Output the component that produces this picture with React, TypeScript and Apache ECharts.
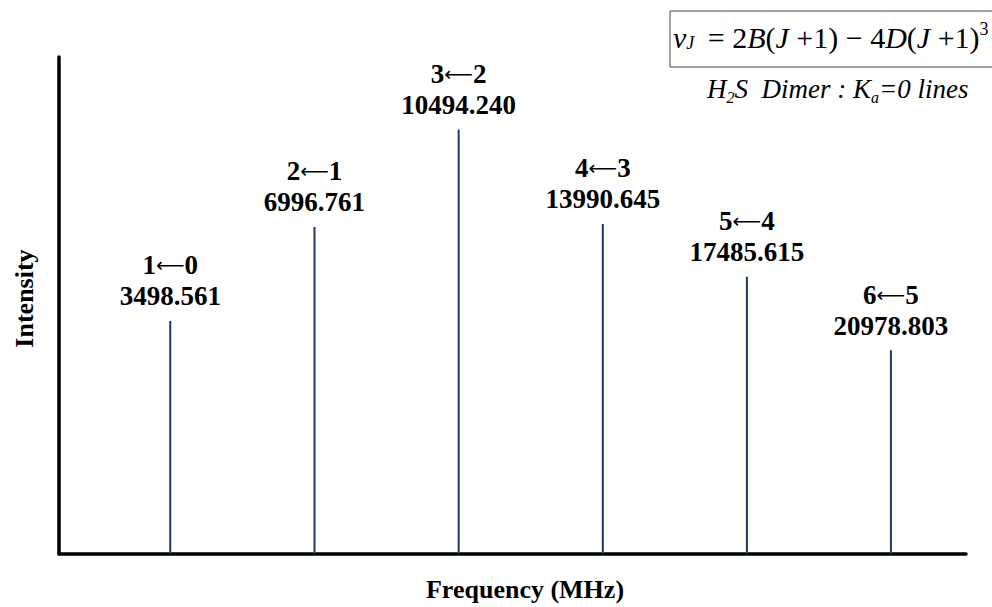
import React, { useEffect, useRef } from "react";
import * as echarts from "echarts";

const transitionUpper = ["1", "2", "3", "4", "5", "6"];
const transitionLower = ["0", "1", "2", "3", "4", "5"];
const frequencies = [3498.561, 6996.761, 10494.24, 13990.645, 17485.615, 20978.803];
const intensities = [46.9, 65.8, 85.4, 66.4, 55.8, 41.0];

const SERIF = "'Liberation Serif', 'Times New Roman', serif";

type Piece = { t: string; italic?: boolean; size: number; y: number };

function layoutPieces(pieces: Piece[], x0: number) {
  const canvas = document.createElement("canvas");
  const ctx = canvas.getContext("2d")!;
  let x = x0;
  const out: any[] = [];
  pieces.forEach((p) => {
    const style = p.italic ? "italic" : "normal";
    ctx.font = `${style} ${p.size}px ${SERIF}`;
    const w = ctx.measureText(p.t).width;
    out.push({
      type: "text",
      x,
      y: p.y,
      style: {
        text: p.t,
        fontFamily: SERIF,
        fontSize: p.size,
        fontStyle: style,
        fill: "#000",
        align: "left",
        verticalAlign: "middle",
      },
    });
    x += w;
  });
  return out;
}

export default function App() {
  const ref = useRef<HTMLDivElement>(null);
  useEffect(() => {
    if (!ref.current) return;
    const chart = echarts.init(ref.current, null, { renderer: "svg" });

    const M = 30, S = 18, yM = 37, ySub = 43, ySup = 29;
    const equation: Piece[] = [
      { t: "ν", italic: true, size: M, y: yM },
      { t: "J", italic: true, size: S, y: ySub },
      { t: "\u2009 = 2", size: M, y: yM },
      { t: "B", italic: true, size: M, y: yM },
      { t: "(", size: M, y: yM },
      { t: "J", italic: true, size: M, y: yM },
      { t: " +1) − 4", size: M, y: yM },
      { t: "D", italic: true, size: M, y: yM },
      { t: "(", size: M, y: yM },
      { t: "J", italic: true, size: M, y: yM },
      { t: " +1)", size: M, y: yM },
      { t: "3", size: S, y: ySup },
    ];
    const T = 27, TS = 16, yT = 89, yTS = 97;
    const subtitle: Piece[] = [
      { t: "H", italic: true, size: T, y: yT },
      { t: "2", italic: true, size: TS, y: yTS },
      { t: "S  Dimer : K", italic: true, size: T, y: yT },
      { t: "a", italic: true, size: TS, y: yTS },
      { t: "=0 lines", italic: true, size: T, y: yT },
    ];

    const data = frequencies.map((f, i) => [f, intensities[i]]);

    chart.setOption({
      animation: false,
      backgroundColor: "#fff",
      grid: { left: 59, right: 26, top: 57, bottom: 50 },
      xAxis: {
        type: "value",
        min: 800,
        max: 22800,
        name: "Frequency (MHz)",
        nameLocation: "middle",
        nameGap: 22,
        nameTextStyle: {
          fontFamily: SERIF,
          fontWeight: "bold",
          fontSize: 26,
          color: "#000",
          padding: [0, 0, 0, 25],
        },
        axisLine: { show: true, onZero: false, lineStyle: { color: "#000", width: 3.5 } },
        axisTick: { show: false },
        axisLabel: { show: false },
        splitLine: { show: false },
      },
      yAxis: {
        type: "value",
        min: 0,
        max: 100,
        name: "Intensity",
        nameLocation: "middle",
        nameRotate: 90,
        nameGap: 22,
        nameTextStyle: {
          fontFamily: SERIF,
          fontWeight: "bold",
          fontSize: 26,
          color: "#000",
          padding: [0, 0, 0, 14],
        },
        axisLine: { show: true, lineStyle: { color: "#000", width: 3.5 } },
        axisTick: { show: false },
        axisLabel: { show: false },
        splitLine: { show: false },
      },
      series: [
        {
          type: "bar",
          data,
          barWidth: 2,
          itemStyle: { color: "#1f3864" },
          label: {
            show: true,
            position: "top",
            distance: 9,
            formatter: (p: any) =>
              `{n|${transitionUpper[p.dataIndex]}}{a|⟵}{n|${transitionLower[p.dataIndex]}}\n{n|${frequencies[p.dataIndex].toFixed(3)}}`,
            fontFamily: SERIF,
            fontWeight: "bold",
            fontSize: 27,
            lineHeight: 31,
            color: "#000",
            align: "center",
            rich: {
              n: {
                fontFamily: SERIF,
                fontWeight: "bold",
                fontSize: 27,
                lineHeight: 31,
                color: "#000",
              },
              a: {
                fontFamily: "'DejaVu Sans'",
                fontWeight: "normal",
                fontSize: 20,
                lineHeight: 31,
                color: "#000",
              },
            },
          },
        },
      ],
      graphic: [
        {
          type: "rect",
          shape: { x: 670, y: 11, width: 340, height: 56 },
          style: { fill: "none", stroke: "#444", lineWidth: 1 },
        },
        ...layoutPieces(equation, 673),
        ...layoutPieces(subtitle, 707),
      ],
    });
    return () => chart.dispose();
  }, []);
  return (
    <div
      ref={ref}
      style={{ position: "fixed", left: 0, top: 0, width: 992, height: 607 }}
    />
  );
}
